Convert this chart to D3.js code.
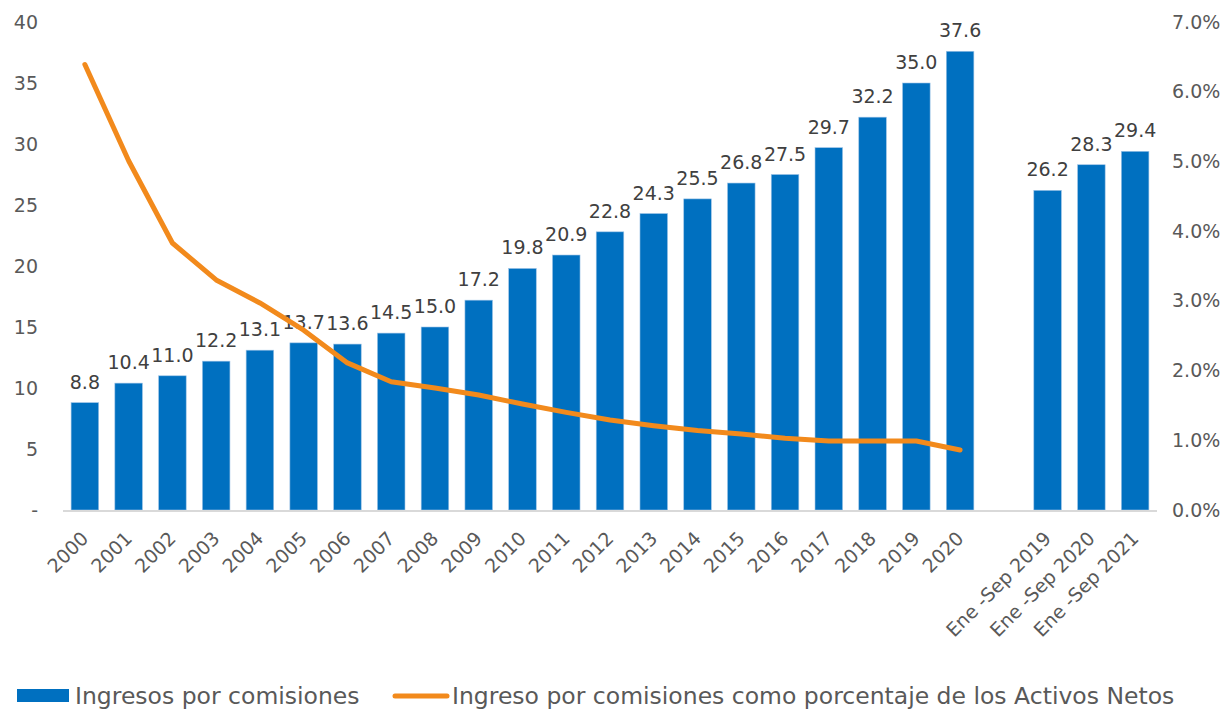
<!DOCTYPE html>
<html>
<head>
<meta charset="utf-8">
<script src="https://cdn.jsdelivr.net/npm/d3@7"></script>
<style>
  body { margin: 0; background: #fff; }
  svg text { font-family: "DejaVu Sans", sans-serif; fill: #595959; }
</style>
</head>
<body>
<svg id="chart" width="1230" height="709"></svg>
<script>
'use strict';

// categories: 21 years, a blank gap slot, then three partial years
var years = ['2000', '2001', '2002', '2003', '2004', '2005', '2006', '2007', '2008', '2009', '2010',
  '2011', '2012', '2013', '2014', '2015', '2016', '2017', '2018', '2019', '2020']
var partial = ['Ene -Sep 2019', 'Ene -Sep 2020', 'Ene -Sep 2021']
var categories = years.concat([' '], partial)

// Ingresos por comisiones (bars)
var ingresos = [8.8, 10.4, 11.0, 12.2, 13.1, 13.7, 13.6, 14.5, 15.0, 17.2, 19.8,
  20.9, 22.8, 24.3, 25.5, 26.8, 27.5, 29.7, 32.2, 35.0, 37.6,
  null, 26.2, 28.3, 29.4]

// porcentaje de los activos netos (line, only the full years)
var porcentaje = [0.0639, 0.0501, 0.0383, 0.0330, 0.0297, 0.0258, 0.0211, 0.0184, 0.0175, 0.0165, 0.0152,
  0.0140, 0.0129, 0.0121, 0.0114, 0.0109, 0.0103, 0.0099, 0.0099, 0.0099, 0.0086]

var leftTicks = [0, 5, 10, 15, 20, 25, 30, 35, 40]
var rightTicks = [0, 0.01, 0.02, 0.03, 0.04, 0.05, 0.06, 0.07]

var legendLabels = ['Ingresos por comisiones', 'Ingreso por comisiones como porcentaje de los Activos Netos']

var blue = '#0070c0'
  , orange = '#f28a1c'

var svg = d3.select('#chart')

var x = d3.scaleBand()
  .domain(categories)
  .range([63, 1157])
  .paddingInner(0.37)
  .paddingOuter(0.185)

var y = d3.scaleLinear().domain([0, 40]).range([510, 22])
var y2 = d3.scaleLinear().domain([0, 0.07]).range([510, 22])

// left axis
var gl = svg.append('g')
  .attr('transform', 'translate(40,0)')
  .call(d3.axisLeft(y).tickValues(leftTicks).tickSize(0).tickPadding(2)
    .tickFormat(function(d) { return d === 0 ? '-' : d }))
gl.select('.domain').remove()
gl.selectAll('text').style('font-size', '19px').attr('fill', '#595959')

// right axis
var gr = svg.append('g')
  .attr('transform', 'translate(1170,0)')
  .call(d3.axisRight(y2).tickValues(rightTicks).tickSize(0).tickPadding(2)
    .tickFormat(d3.format('.1%')))
gr.select('.domain').remove()
gr.selectAll('text').style('font-size', '19px').attr('fill', '#595959')

// bars
var bars = categories.map(function(c, i) { return { cat: c, v: ingresos[i] } })
  .filter(function(d) { return d.v != null })

svg.append('g').selectAll('rect')
  .data(bars)
  .enter().append('rect')
  .attr('x', function(d) { return x(d.cat) })
  .attr('width', x.bandwidth())
  .attr('y', function(d) { return y(d.v) })
  .attr('height', function(d) { return y(0) - y(d.v) })
  .attr('fill', blue)
  .attr('stroke', '#9dc3e6')
  .attr('stroke-width', 0.6)

// category axis line
svg.append('line')
  .attr('x1', 63).attr('x2', 1157)
  .attr('y1', y(0) + 1).attr('y2', y(0) + 1)
  .attr('stroke', '#d9d9d9').attr('stroke-width', 2)

// data labels
svg.append('g').selectAll('text')
  .data(bars)
  .enter().append('text')
  .attr('x', function(d) { return x(d.cat) + x.bandwidth() / 2 })
  .attr('y', function(d) { return y(d.v) - 14 })
  .attr('text-anchor', 'middle')
  .style('font-size', '19px')
  .style('fill', '#404040')
  .text(function(d) { return d.v.toFixed(1) })

// rotated category labels
svg.append('g').selectAll('text')
  .data(categories.filter(function(c) { return c.trim() !== '' }))
  .enter().append('text')
  .attr('transform', function(c) {
    return 'translate(' + [x(c) + x.bandwidth() / 2, 535] + ') rotate(-45)'
  })
  .attr('text-anchor', 'end')
  .attr('dy', '0.35em')
  .style('font-size', '19px')
  .text(function(c) { return c })

// line
var line = d3.line()
  .x(function(d, i) { return x(years[i]) + x.bandwidth() / 2 })
  .y(function(d) { return y2(d) })

svg.append('path')
  .datum(porcentaje)
  .attr('d', line)
  .attr('fill', 'none')
  .attr('stroke', orange)
  .attr('stroke-width', 5)
  .attr('stroke-linecap', 'round')
  .attr('stroke-linejoin', 'round')

// legend
var lg = svg.append('g')
lg.append('rect')
  .attr('x', 17).attr('y', 689).attr('width', 52).attr('height', 13)
  .attr('fill', blue)
lg.append('text')
  .attr('x', 75).attr('y', 704)
  .style('font-size', '23.5px')
  .text(legendLabels[0])
lg.append('line')
  .attr('x1', 395).attr('x2', 447).attr('y1', 696).attr('y2', 696)
  .attr('stroke', orange).attr('stroke-width', 5).attr('stroke-linecap', 'round')
lg.append('text')
  .attr('x', 452).attr('y', 704)
  .style('font-size', '23.5px')
  .text(legendLabels[1])
</script>
</body>
</html>
